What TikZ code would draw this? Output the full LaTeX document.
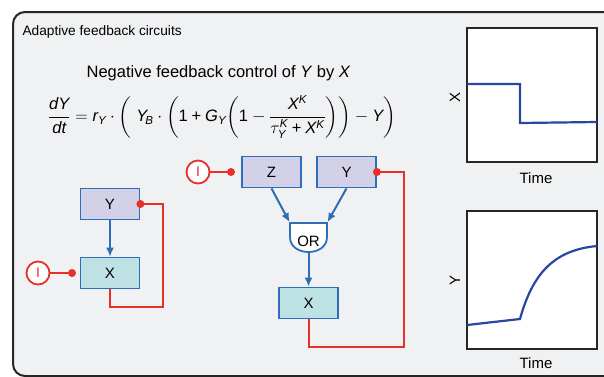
\documentclass[tikz,border=0pt]{standalone}
\usepackage{amsmath}
\usepackage{fontspec}
\setmainfont{Liberation Sans}
\usepackage{tikz}
\usetikzlibrary{arrows.meta,calc,positioning}
\definecolor{panel}{RGB}{240,241,243}
\definecolor{geneblue}{RGB}{46,110,184}
\definecolor{lav}{RGB}{211,209,232}
\definecolor{aqua}{RGB}{190,225,228}
\definecolor{inhib}{RGB}{232,48,40}
\definecolor{tracecol}{RGB}{40,72,160}
\newcommand{\mv}[1]{\mathit{#1}}
\newcommand{\tplus}{\mathbin{\text{+}}}
\newcommand{\tone}{\text{1}}
\tikzset{
  panelframe/.style={draw=black!85, line width=2pt, fill=panel, rounded corners=12pt},
  gene/.style={draw=geneblue, line width=1.8pt, minimum width=59pt, minimum height=31pt,
               inner sep=0pt, font=\fontsize{15}{15}\selectfont},
  geneY/.style={gene, fill=lav},      % upstream genes
  geneX/.style={gene, fill=aqua},     % target gene
  act/.style={-{Latex[length=9pt,width=8pt]}, draw=geneblue, line width=2pt},
  rep/.style={draw=inhib, line width=2pt},
  repdot/.style={circle, fill=inhib, inner sep=0pt, minimum size=8pt},
  inp/.style={circle, draw=inhib, fill=white, line width=1.8pt, minimum size=23pt,
              inner sep=0pt, text=inhib, font=\fontsize{14}{14}\selectfont},
  gate/.style={draw=geneblue, line width=1.8pt, fill=white},
  plotbox/.style={draw=black!85, line width=2pt, fill=white},
  tracePath/.style={draw=tracecol, line width=2.2pt},
  axlbl/.style={font=\fontsize{15}{15}\selectfont}
}

\begin{document}
\begin{tikzpicture}[x=1pt, y=-1pt]
  \useasboundingbox (0,0) rectangle (604,376);
  \draw[panelframe] (13,12) rectangle (660,376);
  % headings
  \node[anchor=west, font=\fontsize{13.7}{16}\selectfont] (title) at (19,32) {Adaptive feedback circuits};
  \node[font=\fontsize{16.5}{18}\selectfont, inner sep=1pt] (sub) at (218.5,73)
    {Negative feedback control of \textit{Y} by \textit{X}};
  \node[font=\fontsize{16.5}{18}\selectfont, inner sep=0pt] (eq) at (222,117)
    {$\dfrac{\mv{dY}}{\mv{dt}} = \mv{r}_{\mv{Y}}\cdot\biggl(\;\mv{Y}_{\!\mv{B}}\cdot\biggl(\tone\tplus\mv{G}_{\mv{Y}}\biggl(\tone-\dfrac{\mv{X}^{\mv{K}}}{\tau_{\mv{Y}}^{\mv{K}}\tplus\mv{X}^{\mv{K}}}\biggr)\biggr)-\mv{Y}\biggr)$};

  % simple loop
  \node[geneY] (Y1) at (110,204) {Y};
  \node[geneX] (X1) at (110,273) {X};
  \node[inp] (I1) at (38,273) {I};
  \node[repdot] (d1) at (72,273) {};
  \coordinate (c1) at (163,307);
  \draw[act] (Y1) -- (X1);
  \draw[rep] (I1) -- (d1);
  \draw[rep] (X1.south) |- (c1) |- (Y1.east);
  \node[repdot] (d2) at (Y1.east) {};

  % loop with OR gate
  \node[geneY] (Z2) at (271.5,172) {Z};
  \node[geneY] (Y2) at (346.5,172) {Y};
  \node[geneX] (X2) at (308.5,303) {X};
  \node[inp] (I2) at (198,172) {I};
  \node[repdot] (d3) at (231,172) {};
  \coordinate (orC) at (308.5,241);
  \draw[gate] ($(orC)+(-18.5,-18)$) coordinate (orNW) -- ++(0,14)
    .. controls +(0,20) and +(0,20) .. ($(orC)+(18.5,-4)$)
    -- ($(orC)+(18.5,-18)$) coordinate (orNE) -- cycle;
  \node[font=\fontsize{15}{15}\selectfont] (or) at (orC) {OR};
  \coordinate (orS) at ($(orC)+(0,11)$);
  \coordinate (c2) at (404,347);
  \draw[act, shorten >=1pt] (Z2.south) -- (orNW);
  \draw[act, shorten >=1pt] (Y2.south) -- (orNE);
  \draw[act] (orS) -- (X2.north);
  \draw[rep] (I2) -- (d3);
  \draw[rep] (X2.south) |- (c2) |- (Y2.east);
  \node[repdot] (d4) at (Y2.east) {};

  % time courses
  \draw[plotbox] (467,28) rectangle (597,162);
  \draw[tracePath] (467,84) -- (520,84) -- (520,123) -- (597,122);
  \node[axlbl, rotate=90] (xlbl) at (455,97) {X};
  \node[axlbl] (t1) at (536,178) {Time};
  \draw[plotbox] (467,211) rectangle (597,349);
  \draw[tracePath] (467,325) -- (520,319) .. controls (533,272) and (555,250) .. (597,246);
  \node[axlbl, rotate=90] (ylbl) at (455,280) {Y};
  \node[axlbl] (t2) at (536,363) {Time};
\end{tikzpicture}
\end{document}
